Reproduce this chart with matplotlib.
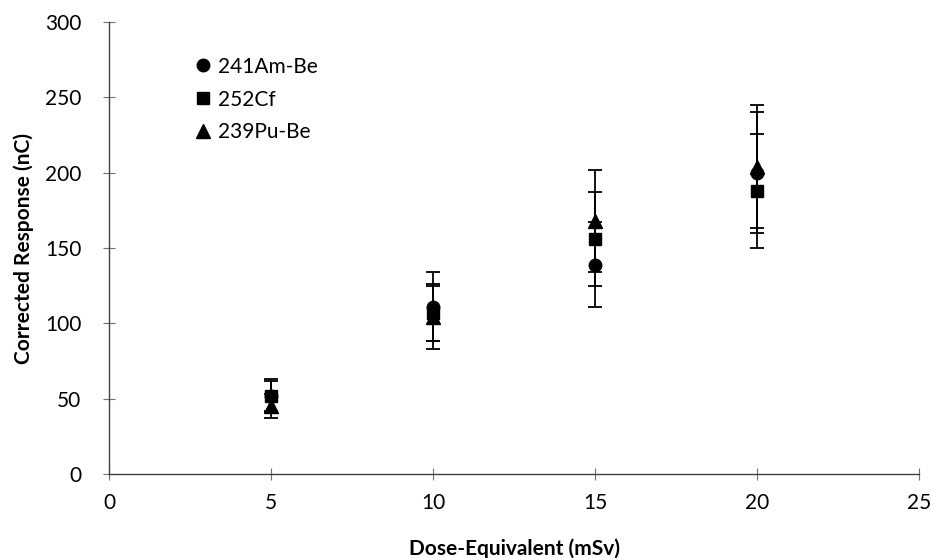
import matplotlib.pyplot as plt
from matplotlib.lines import Line2D

plt.rcParams['font.family'] = ['Lato', 'DejaVu Sans']

dose = [5, 10, 15, 20]

am_be = [52, 111, 139, 200]
am_be_err = [10, 23, 28, 40]

cf = [52, 107, 156, 188]
cf_err = [11, 19, 31, 38]

pu_be = [45, 104, 168, 204]
pu_be_err = [8, 21, 34, 41]

series = [
    ('241Am-Be', am_be, am_be_err, 'o', 9),
    ('252Cf', cf, cf_err, 's', 8.5),
    ('239Pu-Be', pu_be, pu_be_err, '^', 10.5),
]

fig = plt.figure(figsize=(9.33, 5.58), dpi=100)
ax = fig.add_axes([0.117, 0.1505, 0.868, 0.81])

handles = []
for label, vals, errs, mk, ms in series:
    ax.errorbar(dose, vals, yerr=errs, fmt=mk, color='black', ms=ms,
                ecolor='black', elinewidth=1.3, capsize=5, capthick=1.3)
    handles.append(Line2D([], [], ls='none', marker=mk, color='black',
                          ms=ms, label=label))

ax.set_xlim(0, 25)
ax.set_ylim(0, 300)
ax.set_xticks(range(0, 26, 5))
ax.set_yticks(range(0, 301, 50))

for s in ['top', 'right']:
    ax.spines[s].set_visible(False)
for s in ['left', 'bottom']:
    ax.spines[s].set_color('#404040')
    ax.spines[s].set_linewidth(1.0)

ax.tick_params(direction='inout', length=8, width=0.8, color='#707070',
               labelsize=15)
ax.tick_params(axis='x', pad=10)
ax.tick_params(axis='y', pad=16)

ax.set_xlabel('Dose-Equivalent (mSv)', fontsize=15, fontweight='bold', labelpad=18)
ax.set_ylabel('Corrected Response (nC)', fontsize=15, fontweight='bold', labelpad=8)

ax.legend(handles=handles, loc='upper left', bbox_to_anchor=(0.085, 0.965),
          frameon=False, fontsize=15, handlelength=0.6, handletextpad=0.4,
          labelspacing=0.62)

fig.savefig('out.png', dpi=100)
